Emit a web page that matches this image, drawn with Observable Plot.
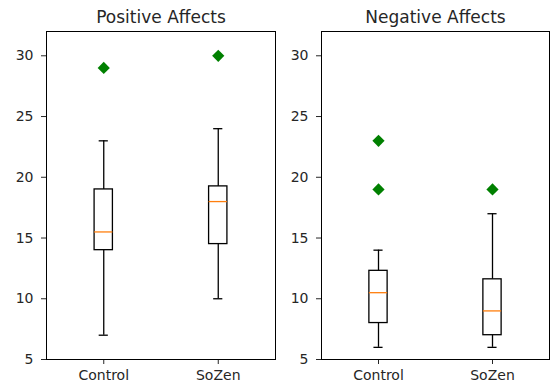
<!DOCTYPE html>
<html>
<head>
<meta charset="utf-8">
<script src="https://cdn.jsdelivr.net/npm/d3@7"></script>
<script src="https://cdn.jsdelivr.net/npm/@observablehq/plot@0.6"></script>
<style>
  html, body { margin: 0; padding: 0; background: #fff; }
  #wrap { display: flex; flex-direction: row; width: 550px; height: 389px; }
  svg { display: block; }
</style>
</head>
<body>
<div id="wrap"></div>
<script>
// Data
const groups = ["Control", "SoZen"];
const panels = ["Positive Affects", "Negative Affects"];
const yTicks = [5, 10, 15, 20, 25, 30];

// [whiskerLow, Q1, median, Q3, whiskerHigh] per group
const positiveStats = [
  [7, 14, 15.5, 19, 23],
  [10, 14.5, 18, 19.25, 24]
];
const negativeStats = [
  [6, 8, 10.5, 12.3, 14],
  [6, 7, 9, 11.6, 17]
];
const positiveOutliers = [[29], [30]];
const negativeOutliers = [[19, 23], [19]];

const boxHalf = 0.08;
const capHalf = 0.04;

function makePanel(title, stats, outliers, opts) {
  const boxes = stats.map((s, i) => ({
    pos: i + 1, lo: s[0], q1: s[1], med: s[2], q3: s[3], hi: s[4]
  }));
  const outs = [];
  outliers.forEach((arr, i) => arr.forEach(v => outs.push({pos: i + 1, v})));
  return Plot.plot({
    width: opts.width,
    height: 389,
    marginLeft: opts.marginLeft,
    marginRight: opts.marginRight,
    marginTop: 31,
    marginBottom: 30,
    style: {fontFamily: "DejaVu Sans", fontSize: "14px", color: "#262626", background: "white"},
    x: {domain: [0.5, 2.5]},
    y: {domain: [5, 32]},
    marks: [
      Plot.axisX({ticks: [1, 2], tickFormat: d => groups[d - 1], tickSize: 5, tickPadding: 6, fontSize: 14, label: null}),
      Plot.axisY({ticks: yTicks, tickSize: 5, tickPadding: 8, fontSize: 14, label: null}),
      Plot.ruleX(boxes, {x: "pos", y1: "lo", y2: "q1", stroke: "black", strokeWidth: 1.3}),
      Plot.ruleX(boxes, {x: "pos", y1: "q3", y2: "hi", stroke: "black", strokeWidth: 1.3}),
      Plot.ruleY(boxes, {y: "lo", x1: d => d.pos - capHalf, x2: d => d.pos + capHalf, stroke: "black", strokeWidth: 1.3}),
      Plot.ruleY(boxes, {y: "hi", x1: d => d.pos - capHalf, x2: d => d.pos + capHalf, stroke: "black", strokeWidth: 1.3}),
      Plot.rect(boxes, {x1: d => d.pos - boxHalf, x2: d => d.pos + boxHalf, y1: "q1", y2: "q3", fill: "white", stroke: "black", strokeWidth: 1.3}),
      Plot.ruleY(boxes, {y: "med", x1: d => d.pos - boxHalf, x2: d => d.pos + boxHalf, stroke: "#ff7f0e", strokeWidth: 1.3}),
      Plot.dot(outs, {x: "pos", y: "v", symbol: "diamond2", r: 5.5, fill: "green", stroke: "none"}),
      Plot.frame({stroke: "black", strokeWidth: 1}),
      Plot.text([title], {frameAnchor: "top", lineAnchor: "middle", dy: -14, text: d => d, fontSize: 17, fill: "#262626"})
    ]
  });
}

const wrap = document.getElementById("wrap");
wrap.appendChild(makePanel(panels[0], positiveStats, positiveOutliers, {width: 277, marginLeft: 46, marginRight: 2}));
wrap.appendChild(makePanel(panels[1], negativeStats, negativeOutliers, {width: 273, marginLeft: 44, marginRight: 1}));
</script>
</body>
</html>
